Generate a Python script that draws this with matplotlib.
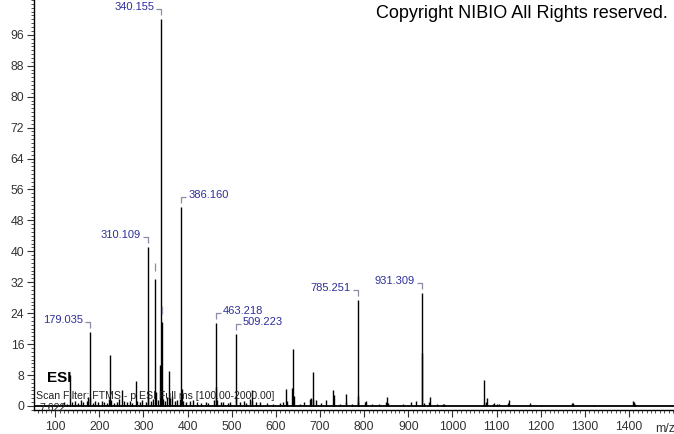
import matplotlib
matplotlib.use("Agg")
import matplotlib.pyplot as plt
from matplotlib.ticker import MultipleLocator

plt.rcParams['font.family'] = ['Liberation Sans', 'DejaVu Sans']

# peak list (m/z, relative abundance)
peak_mz = [115, 121, 127, 133, 137, 145, 151, 159, 163, 171, 175, 179.035, 180, 185,
           191, 197, 205, 211, 217, 221, 225, 227, 233, 241, 245, 252, 255, 263, 269,
           275, 282, 285, 293, 297, 305, 310.109, 311, 317, 321, 327, 328, 333, 338,
           339, 340.155, 341.158, 342, 344, 349, 353, 358, 359, 364, 371, 377, 383,
           386.160, 387, 389, 397, 405, 413, 421, 431, 441, 447, 459, 463.218, 464,
           466, 475, 481, 491, 497, 509.223, 510, 519, 527, 533, 541, 545, 547, 555,
           563, 579, 593, 609, 617, 623, 625, 637, 639, 640, 655, 663, 677, 679, 683,
           684, 691, 703, 714, 729, 731, 745, 758, 760, 773, 785.251, 786, 787, 801,
           804, 817, 833, 849, 851, 853, 887, 906, 918, 931.309, 932, 935, 947, 949,
           964, 979, 982, 1071, 1072, 1077, 1079, 1091, 1095, 1101, 1106, 1127, 1128,
           1175, 1200, 1272, 1273, 1320, 1410, 1411, 1413]
peak_int = [0.6, 0.9, 0.5, 8.0, 1.0, 1.2, 0.8, 1.6, 0.9, 1.2, 2.2, 19.1, 2.0, 0.8,
            1.4, 0.9, 1.3, 1.0, 0.7, 1.9, 13.2, 1.6, 0.8, 1.1, 1.7, 4.1, 1.2, 0.9, 1.3,
            0.8, 6.5, 1.4, 1.0, 1.5, 0.9, 41.1, 3.4, 1.2, 1.7, 32.8, 3.6, 1.5, 10.6,
            3.0, 100.0, 21.7, 4.2, 1.8, 1.2, 2.3, 9.1, 2.0, 2.6, 1.2, 1.5, 1.9,
            51.5, 4.5, 1.3, 0.9, 1.3, 1.6, 1.0, 0.8, 1.1, 0.7, 1.5, 21.5, 5.0,
            1.5, 0.9, 1.1, 0.8, 1.0, 18.6, 2.3, 1.0, 1.3, 0.8, 1.7, 4.1, 1.2, 0.9,
            1.0, 0.7, 0.6, 0.8, 1.0, 4.4, 1.2, 4.7, 14.7, 2.5, 0.6, 0.9, 1.8, 2.1, 8.8,
            1.9, 1.5, 0.7, 1.5, 4.1, 2.8, 0.6, 3.2, 0.9, 0.6, 27.4, 2.6, 1.1, 0.9,
            1.3, 0.6, 0.5, 1.0, 2.3, 0.8, 0.5, 1.0, 1.3, 29.2, 13.8, 0.8, 1.0, 2.3,
            0.5, 0.6, 0.6, 6.7, 0.8, 1.0, 2.1, 0.5, 0.7, 0.5, 0.5, 0.8, 1.5,
            0.7, 0.3, 0.8, 0.8, 0.3, 1.3, 1.0, 0.5]

# labelled peaks: m/z, height, side of the label
label_mz = [179.035, 310.109, 340.155, 386.160, 463.218, 509.223, 785.251, 931.309]
label_int = [19.1, 41.1, 100.0, 51.5, 21.5, 18.6, 27.4, 29.2]
label_side = ['left', 'left', 'left', 'right', 'right', 'right', 'left', 'left']
# peaks with a bracket but hidden text
mark_mz = [327, 341.158]
mark_int = [32.8, 21.7]

x_ticks = list(range(100, 1500, 100))
y_ticks = list(range(0, 97, 8))

fig = plt.figure(figsize=(6.74, 4.34), dpi=100)
ax = fig.add_axes([34 / 674, 24 / 434, 640 / 674, 410 / 434])
ax.set_xlim(52, 1502)
ax.set_ylim(-1.05, 105)

ax.vlines(peak_mz, 0, peak_int, color='black', lw=1.0)
ax.axhline(0, color='black', lw=1.3)

for s in ['top', 'right']:
    ax.spines[s].set_visible(False)
ax.spines['left'].set_linewidth(1.0)
ax.spines['bottom'].set_linewidth(1.0)

ax.set_xticks(x_ticks)
ax.set_xticklabels([str(t) for t in x_ticks])
ax.set_yticks(y_ticks)
ax.set_yticklabels([str(t) for t in y_ticks])
ax.xaxis.set_minor_locator(MultipleLocator(10))
ax.yaxis.set_minor_locator(MultipleLocator(1))
ax.tick_params(axis='both', which='major', length=5, width=0.8, labelsize=8.8,
               labelcolor='#333333', color='#333333')
ax.tick_params(axis='both', which='minor', length=2.5, width=0.6, color='#333333')
ax.tick_params(axis='x', pad=3)
ax.tick_params(axis='y', pad=2)
ax.text(1481, -5.9, 'm/z', ha='center', va='center', fontsize=8.8, color='#333333')

# peak labels with little brackets (pixel offsets)
lab_col = '#2f2f9a'
br_col = '#8c8ca6'
to_data = ax.transData.inverted()


def px_line(x, y, pts):
    bx, by = ax.transData.transform((x, y))
    d = [to_data.transform((bx + dx, by + dy)) for dx, dy in pts]
    ax.plot([p[0] for p in d], [p[1] for p in d], color=br_col, lw=0.9,
            solid_capstyle='butt')


for mz, h, side in zip(label_mz, label_int, label_side):
    sgn = -1 if side == 'left' else 1
    px_line(mz, h, [(0, 4), (0, 10), (sgn * 5, 10)])
    ax.annotate(f'{mz:.3f}', (mz, h), xytext=(sgn * 7, 12), textcoords='offset pixels',
                ha='right' if side == 'left' else 'left', va='center',
                fontsize=8, color=lab_col)

for mz, h in zip(mark_mz, mark_int):
    px_line(mz, h, [(0, 8), (0, 16)])

ax.text(0.02, 0.079, 'ESI', transform=ax.transAxes, fontsize=11, fontweight='bold',
        ha='left', va='center')
ax.text(0.003, 0.034, 'Scan Filter: FTMS - p ESI Full ms [100.00-2000.00]',
        transform=ax.transAxes, fontsize=7.6, ha='left', va='center', color='#222222')
ax.text(0.008, 0.006, '7.622', transform=ax.transAxes, fontsize=7.6, ha='left',
        va='center', color='#222222')

fig.text(0.991, 0.968, 'Copyright NIBIO All Rights reserved.', ha='right', va='center',
         fontsize=13)

fig.savefig('out.png', dpi=100)
